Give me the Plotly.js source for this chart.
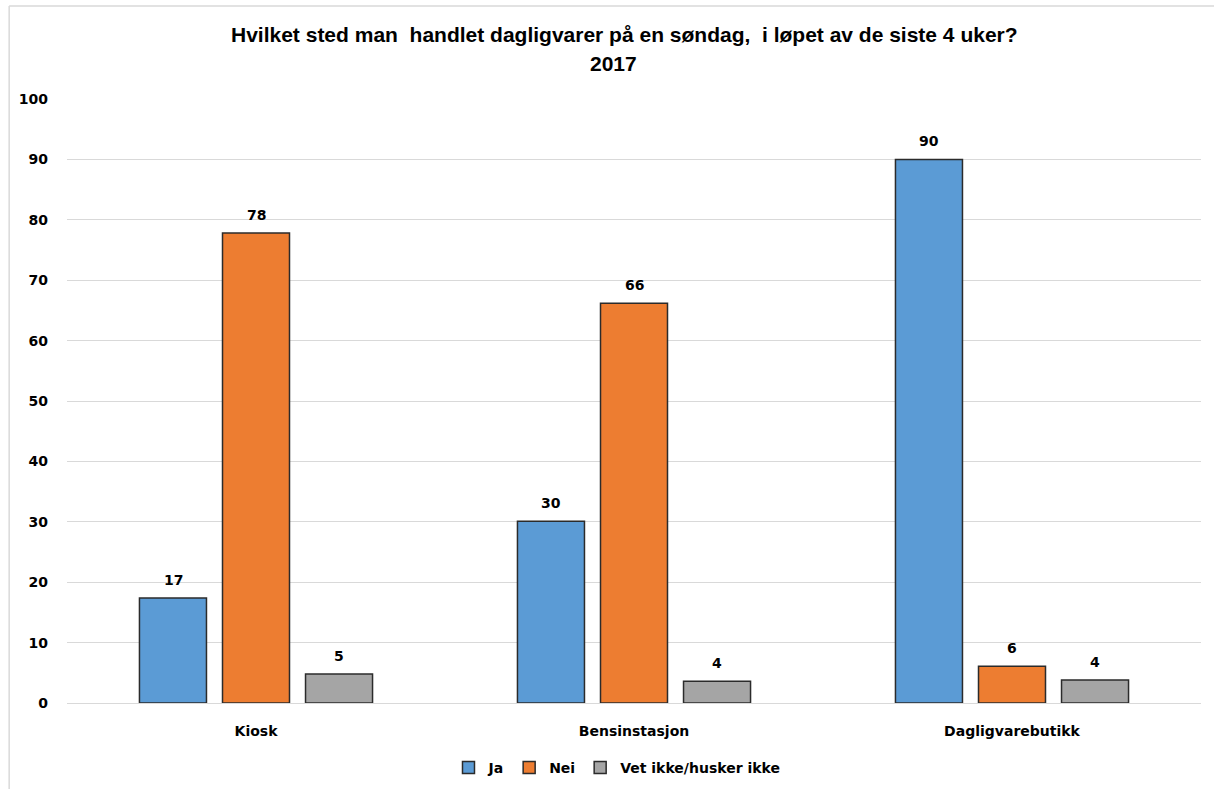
<!DOCTYPE html>
<html>
<head>
<meta charset="utf-8">
<script src="https://cdn.plot.ly/plotly-3.0.1.min.js"></script>
<style>html,body{margin:0;padding:0;background:#fff;}#chart{width:1214px;height:789px;}</style>
</head>
<body>
<div id="chart"></div>
<script>
const categories = ["Kiosk", "Bensinstasjon", "Dagligvarebutikk"];
const jaValues = [17.4, 30.1, 90.0];
const neiValues = [77.8, 66.2, 6.1];
const vetValues = [4.8, 3.6, 3.8];
const jaLabels = ["17", "30", "90"];
const neiLabels = ["78", "66", "6"];
const vetLabels = ["5", "4", "4"];
const seriesNames = ["Ja", "Nei", "Vet ikke/husker ikke"];
const yTicks = [0, 10, 20, 30, 40, 50, 60, 70, 80, 90, 100];
const titleLine1 = "Hvilket sted man  handlet dagligvarer på en søndag,  i løpet av de siste 4 uker?";
const titleLine2 = "2017";

const boldFont = {family: "DejaVu Sans, Verdana, sans-serif", size: 14, color: "#000"};
function mk(name, y, color) {
  return {
    type: "bar", name: "<b>" + name + "</b>", x: categories, y: y,
    marker: {color: color, line: {color: "#2b2b2b", width: 1.5}},
    hoverinfo: "skip"
  };
}
const data = [
  mk(seriesNames[0], jaValues, "#5B9BD5"),
  mk(seriesNames[1], neiValues, "#ED7D31"),
  mk(seriesNames[2], vetValues, "#A5A5A5")
];

const annotations = [];
[[jaValues, jaLabels], [neiValues, neiLabels], [vetValues, vetLabels]].forEach((pair, si) => {
  pair[0].forEach((v, ci) => {
    annotations.push({
      x: categories[ci], y: v, xref: "x", yref: "y",
      text: "<b>" + pair[1][ci] + "</b>", showarrow: false,
      xshift: (si - 1) * 83, yshift: 18, yanchor: "middle", xanchor: "center",
      font: boldFont
    });
  });
});
const titleFont = {family: "Liberation Sans, Arial, sans-serif", size: 21, color: "#000"};
annotations.push({xref: "paper", yref: "paper", x: 0.492, y: 1.106, xanchor: "center", yanchor: "middle",
  text: "<b>" + titleLine1 + "</b>", showarrow: false, font: titleFont});
annotations.push({xref: "paper", yref: "paper", x: 0.482, y: 1.0596, xanchor: "center", yanchor: "middle",
  text: "<b>" + titleLine2 + "</b>", showarrow: false, font: titleFont});

const layout = {
  width: 1214, height: 789,
  paper_bgcolor: "#fff", plot_bgcolor: "#fff",
  margin: {l: 67, r: 13, t: 99, b: 86, autoexpand: false},
  barmode: "group", bargap: 0.341, bargroupgap: 0.193,
  xaxis: {
    type: "category", showgrid: false, zeroline: false, showline: false, ticks: "",
    tickfont: boldFont, tickprefix: "<b>", ticksuffix: "</b>", ticklabelstandoff: 18
  },
  yaxis: {
    range: [0, 100], tickvals: yTicks, ticktext: yTicks.map(v => "<b>" + v + "</b>"),
    showgrid: true, gridcolor: "#D9D9D9", gridwidth: 1,
    zeroline: true, zerolinecolor: "#D9D9D9", zerolinewidth: 1,
    showline: false, ticks: "", ticklabelstandoff: 18,
    tickfont: boldFont
  },
  showlegend: true,
  legend: {
    orientation: "h", x: 0.485, xanchor: "center", y: -0.1076, yanchor: "middle",
    font: boldFont, itemwidth: 30, traceorder: "normal"
  },
  annotations: annotations,
  shapes: [
    {type: "line", xref: "paper", yref: "paper", x0: -0.051, x1: 1.02, y0: 1.154, y1: 1.154, line: {color: "#D9D9D9", width: 1.5}},
    {type: "line", xref: "paper", yref: "paper", x0: -0.051, x1: -0.051, y0: -0.2, y1: 1.154, line: {color: "#D9D9D9", width: 1.5}}
  ]
};
Plotly.newPlot("chart", data, layout, {displayModeBar: false, staticPlot: true});
</script>
</body>
</html>
